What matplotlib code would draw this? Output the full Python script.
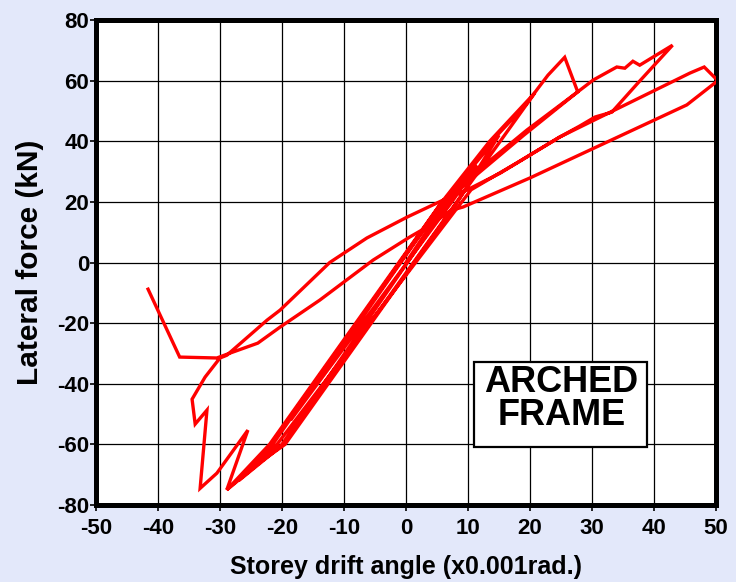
import matplotlib
matplotlib.use("Agg")
import matplotlib.pyplot as plt
from matplotlib.patches import Rectangle

# Load history of the arched frame: storey drift angle (x0.001 rad) vs lateral force (kN)
drift = [
    # cycles along the initial stiffness
    0.0, 6.5, 11.5,
    7.4, -18.6,
    6.0, 15.0,
    8.3, -19.5, -25.0,
    -21.5, 5.8, 13.5, 20.8,
    9.6, -19.8, -27.0,
    -21.8, 6.0, 13.8, 19.3,
    # first peak with force drop
    21.3, 22.9, 25.6, 27.7,
    19.5, 9.0, -20.0, -28.9,
    -22.0, 5.8, 8.5, 19.0, 27.7,
    # cycle to the upper tip
    30.2, 34.0, 35.3, 36.6, 37.7, 43.0,
    37.4, 33.2, 30.5, 28.0, 24.8, 18.0, 10.5, -20.8, -28.9,
    # negative excursion with sudden drops
    -25.5, -30.5, -33.2, -32.1, -34.0, -34.5, -32.4, -30.0, -28.9,
    # final large positive cycle
    -22.4, -20.3, -12.3, -6.3, 0.2, 6.0, 9.8, 15.2, 24.8, 45.8, 48.1, 50.3,
    45.3, 20.0, 9.2, 7.4, 3.4, 0.6, -5.3, -13.9, -20.3, -23.9, -28.4, -30.5,
    -36.5, -41.6,
]
force = [
    0.0, 20.0, 32.0,
    20.0, -52.0,
    20.0, 42.0,
    20.0, -60.0, -68.0,
    -60.0, 20.0, 40.0, 56.0,
    24.0, -60.0, -72.0,
    -60.0, 20.0, 40.0, 52.0,
    57.5, 61.8, 67.7, 56.3,
    43.7, 26.0, -60.0, -75.0,
    -60.0, 20.0, 24.0, 42.0, 56.3,
    60.2, 64.5, 64.1, 66.4, 65.1, 71.7,
    59.2, 49.6, 48.0, 45.0, 41.4, 33.0, 24.0, -60.0, -75.0,
    -55.3, -69.5, -74.5, -48.7, -53.3, -45.1, -37.8, -31.5, -30.6,
    -19.0, -15.7, 0.0, 8.1, 15.0, 20.6, 23.9, 29.5, 41.4, 62.5, 64.5, 60.0,
    52.0, 27.9, 18.3, 17.3, 11.7, 8.4, 0.8, -12.4, -21.3, -26.6, -29.9, -31.5,
    -31.2, -8.8,
]

x_ticks = [-50, -40, -30, -20, -10, 0, 10, 20, 30, 40, 50]
y_ticks = [-80, -60, -40, -20, 0, 20, 40, 60, 80]

bg = "#E3E8FA"
fig = plt.figure(figsize=(7.36, 5.82), dpi=100, facecolor=bg)
ax = fig.add_axes([0.1304, 0.1323, 0.8424, 0.8333])
ax.set_facecolor("white")

ax.plot(drift, force, color="#FF0000", lw=2.4, solid_joinstyle="miter", zorder=3)

ax.set_xlim(-50, 50)
ax.set_ylim(-80, 80)
ax.set_xticks(x_ticks)
ax.set_yticks(y_ticks)
ax.grid(True, color="black", lw=0.9, zorder=1)
ax.set_axisbelow(True)

for s in ax.spines.values():
    s.set_linewidth(3.6)
    s.set_color("black")

tick_font = {"family": ["Liberation Sans"], "weight": "bold", "size": 16}
ax.set_xticklabels([str(v) for v in x_ticks], fontdict=tick_font)
ax.set_yticklabels([str(v) for v in y_ticks], fontdict=tick_font)
ax.tick_params(axis="both", length=4, width=1.2, color="black")
ax.tick_params(axis="x", pad=5)
ax.tick_params(axis="y", pad=1)

ax.set_xlabel("Storey drift angle (x0.001rad.)", family=["Liberation Sans"],
              weight="bold", size=18, labelpad=12)
ax.set_ylabel("Lateral force (kN)", family=["Liberation Sans"],
              weight="bold", size=21.5, labelpad=9)

ax.add_patch(Rectangle((0.6097, 0.1196), 0.279, 0.1752, transform=ax.transAxes,
                       facecolor="white", edgecolor="black", lw=1.6, zorder=4))
ax.text(0.7505, 0.2185, "ARCHED\nFRAME", transform=ax.transAxes, ha="center",
        va="center", family=["Liberation Sans"], weight="bold", size=26,
        linespacing=0.95, zorder=5)

fig.savefig("out.png", dpi=100, facecolor=bg)
